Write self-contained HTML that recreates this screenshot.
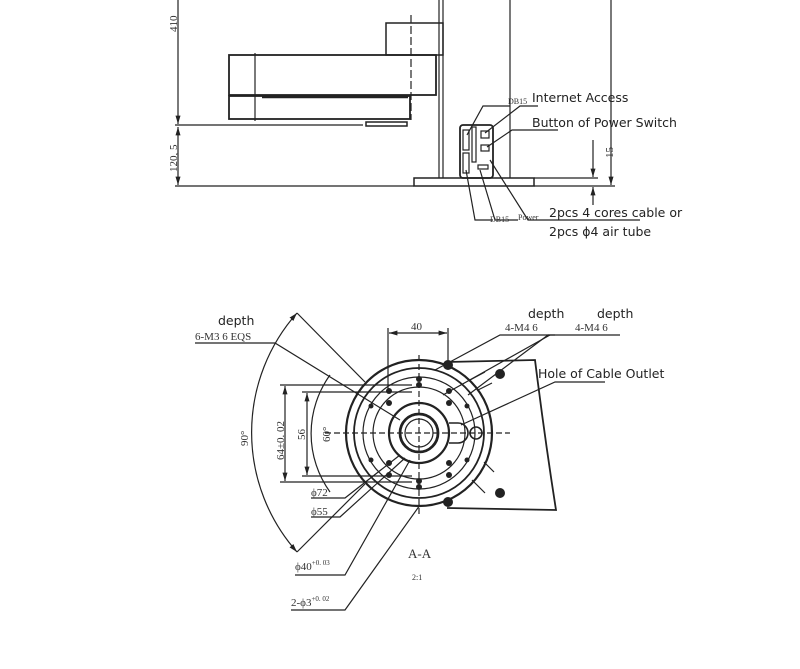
<!DOCTYPE html>
<html><head><meta charset="utf-8"><style>
html,body{margin:0;padding:0;background:#fff;}
svg{display:block}
.s{font-family:"Liberation Serif",serif;fill:#333}
.a{font-family:"DejaVu Sans","Liberation Sans",sans-serif;fill:#222}
</style></head><body>
<svg width="800" height="669" viewBox="0 0 800 669" xmlns="http://www.w3.org/2000/svg">
<defs><marker id="ar" viewBox="0 0 10 10" refX="10" refY="5" markerWidth="7" markerHeight="7" orient="auto-start-reverse"><path d="M0,2 L10,5 L0,8z" fill="#222"/></marker></defs>
<g stroke="#222" fill="none" stroke-width="1.2">
<line x1="178" y1="0" x2="178" y2="124" marker-end="url(#ar)"/>
<line x1="178" y1="127" x2="178" y2="185" marker-start="url(#ar)" marker-end="url(#ar)"/>
<line x1="175" y1="125" x2="363" y2="125"/>
<line x1="175" y1="186" x2="414" y2="186"/>
<line x1="534" y1="186" x2="615" y2="186"/>
<rect x="229" y="55" width="207" height="40" stroke-width="1.8"/>
<rect x="229" y="96" width="181" height="23" stroke-width="1.8"/>
<line x1="255" y1="53" x2="255" y2="121"/>
<rect x="386" y="23" width="57" height="32" stroke-width="1.5"/>
<line x1="411" y1="15" x2="411" y2="120" stroke-dasharray="8,3"/>
<rect x="366" y="122" width="41" height="4" stroke-width="1.5"/>
<line x1="262" y1="97" x2="408" y2="97" stroke-width="2.5"/>
<line x1="439" y1="0" x2="439" y2="178"/><line x1="443" y1="0" x2="443" y2="178"/>
<line x1="510" y1="0" x2="510" y2="178"/>
<line x1="611" y1="0" x2="611" y2="185" marker-end="url(#ar)"/>
<rect x="414" y="178" width="120" height="8" stroke-width="1.5"/>
<rect x="460" y="125" width="33" height="53" rx="3" stroke-width="1.8"/>
<rect x="463" y="130" width="6" height="20"/><rect x="463" y="153" width="6" height="20"/>
<rect x="472" y="127" width="4" height="35"/>
<rect x="481" y="131" width="8" height="7"/><rect x="481" y="145" width="8" height="6"/>
<rect x="478" y="165" width="10" height="4"/>
<line x1="534" y1="178" x2="598" y2="178"/>
<line x1="593" y1="140" x2="593" y2="177" marker-end="url(#ar)"/>
<line x1="593" y1="205" x2="593" y2="187" marker-end="url(#ar)"/>
<polyline points="467,135 483,106 510,106"/>
<polyline points="485,133 520,106 538,106"/>
<polyline points="487,147 512,130 558,130"/>
<polyline points="466,170 475,220 493,220"/>
<polyline points="480,170 495,220 518,220"/>
<polyline points="490,160 528,220 545,220 640,220"/>
<path d="M447,362 L535,360 Q545,440 556,510 L447,508" stroke-width="1.8"/>
<circle cx="419" cy="433" r="73" stroke-width="2.2"/>
<circle cx="419" cy="433" r="65" stroke-width="1.8"/>
<circle cx="419" cy="433" r="56"/>
<circle cx="419" cy="433" r="46"/>
<circle cx="419" cy="433" r="30" stroke-width="2.2"/>
<circle cx="419" cy="433" r="19" stroke-width="2.8"/>
<circle cx="419" cy="433" r="14"/>
<path d="M449,423 L458,423 A10,10 0 0 1 458,443 L449,443" stroke-width="1.6"/>
<circle cx="476" cy="433" r="6" stroke-width="1.6"/>
<line x1="419" y1="355" x2="419" y2="515" stroke-dasharray="6,3"/>
<line x1="325" y1="433" x2="510" y2="433" stroke-dasharray="6,3"/>
<path d="M330,375 A100,100 0 0 0 330,492"/>
<line x1="388" y1="328" x2="388" y2="390"/><line x1="448" y1="328" x2="448" y2="362"/>
<line x1="389" y1="333" x2="447" y2="333" marker-start="url(#ar)" marker-end="url(#ar)"/>
<line x1="280" y1="385" x2="412" y2="385"/><line x1="280" y1="482" x2="412" y2="482"/>
<line x1="285" y1="386" x2="285" y2="481" marker-start="url(#ar)" marker-end="url(#ar)"/>
<line x1="302" y1="392" x2="412" y2="392"/><line x1="302" y1="476" x2="412" y2="476"/>
<line x1="307" y1="393" x2="307" y2="475" marker-start="url(#ar)" marker-end="url(#ar)"/>
<path d="M297,313 A180,180 0 0 0 297,552" marker-start="url(#ar)" marker-end="url(#ar)"/>
<line x1="297" y1="313" x2="365" y2="382"/>
<line x1="297" y1="552" x2="365" y2="484"/>
<polyline points="195,343 275,343 400,420"/>
<polyline points="555,335 500,335 435,370"/>
<polyline points="550,335 443,395"/>
<polyline points="620,335 548,335 468,395"/>
<polyline points="605,382 555,382 461,425"/>
<line x1="470" y1="380" x2="485" y2="372"/><line x1="478" y1="390" x2="492" y2="383"/>
<line x1="472" y1="480" x2="485" y2="493"/><line x1="484" y1="462" x2="494" y2="472"/>
<polyline points="311,498 345,498 400,455"/>
<polyline points="311,517 340,517 405,458"/>
<polyline points="295,575 345,575 410,460"/>
<polyline points="291,610 345,610 420,505"/>
</g>
<g fill="#222">
<circle cx="389" cy="391" r="3"/><circle cx="449" cy="391" r="3"/><circle cx="389" cy="475" r="3"/><circle cx="449" cy="475" r="3"/>
<circle cx="419" cy="379" r="3"/><circle cx="419" cy="385" r="3"/><circle cx="419" cy="481" r="3"/><circle cx="419" cy="487" r="3"/>
<circle cx="389" cy="403" r="3"/><circle cx="449" cy="403" r="3"/><circle cx="389" cy="463" r="3"/><circle cx="449" cy="463" r="3"/>
<circle cx="371" cy="406" r="2.5"/><circle cx="467" cy="406" r="2.5"/><circle cx="371" cy="460" r="2.5"/><circle cx="467" cy="460" r="2.5"/>
<circle cx="448" cy="365" r="5"/><circle cx="448" cy="502" r="5"/><circle cx="500" cy="374" r="5"/><circle cx="500" cy="493" r="5"/>
</g>
<g class="s" font-size="11">
<text transform="translate(177,32) rotate(-90)">410</text>
<text transform="translate(177,172) rotate(-90)">120, 5</text>
<text transform="translate(613,158) rotate(-90)">15</text>
<text x="508" y="104" font-size="8">DB15</text>
<text x="490" y="222" font-size="8">DB15</text>
<text x="518" y="220" font-size="8">Power</text>
<text x="195" y="340">6-M3   6   EQS</text>
<text x="411" y="330">40</text>
<text x="505" y="331">4-M4   6</text>
<text x="575" y="331">4-M4   6</text>
<text transform="translate(248,446) rotate(-90)">90°</text>
<text transform="translate(284,460) rotate(-90)">64±0. 02</text>
<text transform="translate(305,440) rotate(-90)">56</text>
<text transform="translate(330,442) rotate(-90)">60°</text>
<text x="311" y="496">ϕ72</text>
<text x="311" y="515">ϕ55</text>
<text x="295" y="570">ϕ40<tspan font-size="7" dy="-5">+0. 03</tspan></text>
<text x="291" y="606">2-ϕ3<tspan font-size="7" dy="-5">+0. 02</tspan></text>
<text x="408" y="558" font-size="13">A-A</text>
<text x="412" y="580" font-size="8">2:1</text>
</g>
<g class="a" font-size="12.5">
<text x="532" y="102">Internet Access</text>
<text x="532" y="127">Button of Power Switch</text>
<text x="549" y="217">2pcs 4 cores cable or</text>
<text x="549" y="236">2pcs ϕ4 air tube</text>
<text x="218" y="325">depth</text>
<text x="528" y="318">depth</text>
<text x="597" y="318">depth</text>
<text x="538" y="378">Hole of Cable Outlet</text>
</g>
</svg>
</body></html>
